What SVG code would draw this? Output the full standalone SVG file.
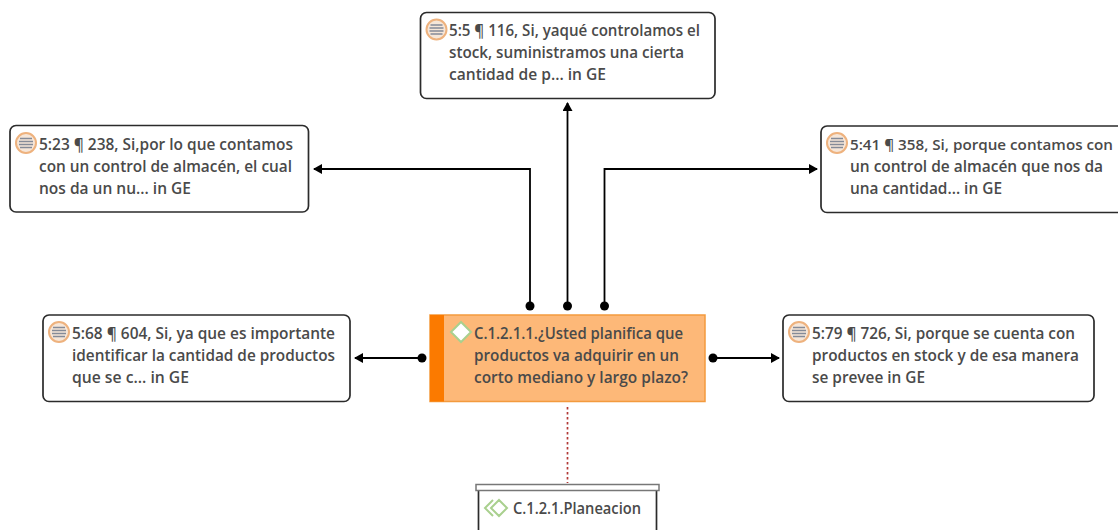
<svg xmlns="http://www.w3.org/2000/svg" width="1118" height="530" viewBox="0 0 1118 530">
<style>
.n{fill:#fff;stroke:#2b2b2b;stroke-width:1.7}
text{font-family:"Open Sans","Noto Sans","Liberation Sans",sans-serif;font-size:16px;font-weight:600;fill:#4a4a4a}
.c{fill:none;stroke:#000;stroke-width:1.8}
.o{fill:#f6e6d8;stroke:#eeb27e;stroke-width:2}
.l{stroke:#858b98;stroke-width:1.4}
.d{fill:#000}
</style>
<defs>
<marker id="a" markerWidth="10" markerHeight="10" refX="8" refY="5" orient="auto" markerUnits="userSpaceOnUse"><path d="M0 0L9 5L0 10Z" fill="#000"/></marker>
<g id="q"><circle cx="0" cy="0" r="10" class="o"/><path class="l" d="M-6 -4.500H6M-7 -1.500H7M-7 1.500H7M-6 4.500H6"/></g>
</defs>
<g id="connectors">
<path class="c" d="M530 306V169H314" marker-end="url(#a)"/>
<path class="c" d="M567.500 306V103" marker-end="url(#a)"/>
<path class="c" d="M604.500 306V169H817" marker-end="url(#a)"/>
<path class="c" d="M422 358H355" marker-end="url(#a)"/>
<path class="c" d="M713 358H779" marker-end="url(#a)"/>
<path d="M567.500 407V483" fill="none" stroke="#b23a38" stroke-width="1.700" stroke-dasharray="2.500 2.500"/>
<circle class="d" cx="530" cy="306" r="4.500"/><circle class="d" cx="567.500" cy="306" r="4.500"/><circle class="d" cx="604.500" cy="306" r="4.500"/><circle class="d" cx="422" cy="358" r="4.500"/><circle class="d" cx="713" cy="358" r="4.500"/>
</g>
<g id="n1"><rect class="n" x="420.500" y="12.500" width="294.500" height="86" rx="6"/><use href="#q" x="436.500" y="29.500"/>
<text x="449" y="36" textLength="251" lengthAdjust="spacingAndGlyphs">5:5 ¶ 116, Si, yaqué controlamos el</text><text x="449" y="58" textLength="235" lengthAdjust="spacingAndGlyphs">stock, suministramos una cierta</text><text x="449" y="80" textLength="157" lengthAdjust="spacingAndGlyphs">cantidad de p... in GE</text></g>
<g id="n2"><rect class="n" x="10" y="125.500" width="298.500" height="86.500" rx="6"/><use href="#q" x="26" y="143"/>
<text x="39" y="150" textLength="254" lengthAdjust="spacingAndGlyphs">5:23 ¶ 238, Si,por lo que contamos</text><text x="39" y="172" textLength="253" lengthAdjust="spacingAndGlyphs">con un control de almacén, el cual</text><text x="39" y="194" textLength="152" lengthAdjust="spacingAndGlyphs">nos da un nu... in GE</text></g>
<g id="n3"><rect class="n" x="821" y="126" width="310" height="86.500" rx="6"/><use href="#q" x="837" y="143"/>
<text x="850" y="150" style="font-size:15px" textLength="263" lengthAdjust="spacingAndGlyphs">5:41 ¶ 358, Si, porque contamos con</text><text x="850" y="172" textLength="253" lengthAdjust="spacingAndGlyphs">un control de almacén que nos da</text><text x="850" y="194" textLength="152" lengthAdjust="spacingAndGlyphs">una cantidad... in GE</text></g>
<g id="n4"><rect class="n" x="43" y="315" width="307" height="86.500" rx="6"/><use href="#q" x="59" y="332"/>
<text x="72" y="339" textLength="263" lengthAdjust="spacingAndGlyphs">5:68 ¶ 604, Si, ya que es importante</text><text x="72" y="361" textLength="263" lengthAdjust="spacingAndGlyphs">identificar la cantidad de productos</text><text x="72" y="383" textLength="117" lengthAdjust="spacingAndGlyphs">que se c... in GE</text></g>
<g id="n5"><rect class="n" x="783" y="315" width="311" height="86.500" rx="6"/><use href="#q" x="799" y="332"/>
<text x="812" y="339" textLength="263" lengthAdjust="spacingAndGlyphs">5:79 ¶ 726, Si, porque se cuenta con</text><text x="812" y="361" textLength="267" lengthAdjust="spacingAndGlyphs">productos en stock y de esa manera</text><text x="812" y="383" textLength="113" lengthAdjust="spacingAndGlyphs">se prevee in GE</text></g>
<g id="center"><rect x="430" y="315" width="275" height="86.500" fill="#fdb878" stroke="#f39a3e" stroke-width="1.500"/><rect x="430" y="315" width="14" height="86.500" fill="#fb7a00"/>
<path d="M461 322L471 332L461 342L451 332Z" fill="#fff" stroke="#a9d08e" stroke-width="2"/>
<text x="474" y="339" textLength="209" lengthAdjust="spacingAndGlyphs">C.1.2.1.1.¿Usted planifica que</text><text x="474" y="361" textLength="205" lengthAdjust="spacingAndGlyphs">productos va adquirir en un</text><text x="474" y="383" textLength="214" lengthAdjust="spacingAndGlyphs">corto mediano y largo plazo?</text></g>
<g id="bottom"><path d="M478.500 490V531M656.500 490V531" stroke="#2b2b2b" stroke-width="1.700" fill="none"/><rect x="476" y="484.500" width="183" height="6" fill="#fff" stroke="#777" stroke-width="1.500"/>
<path d="M493 500L485 508L493 516M499 500L507 508L499 516L491 508Z" fill="none" stroke="#a9d08e" stroke-width="2"/>
<text x="513" y="514" textLength="128" lengthAdjust="spacingAndGlyphs">C.1.2.1.Planeacion</text></g>
</svg>
